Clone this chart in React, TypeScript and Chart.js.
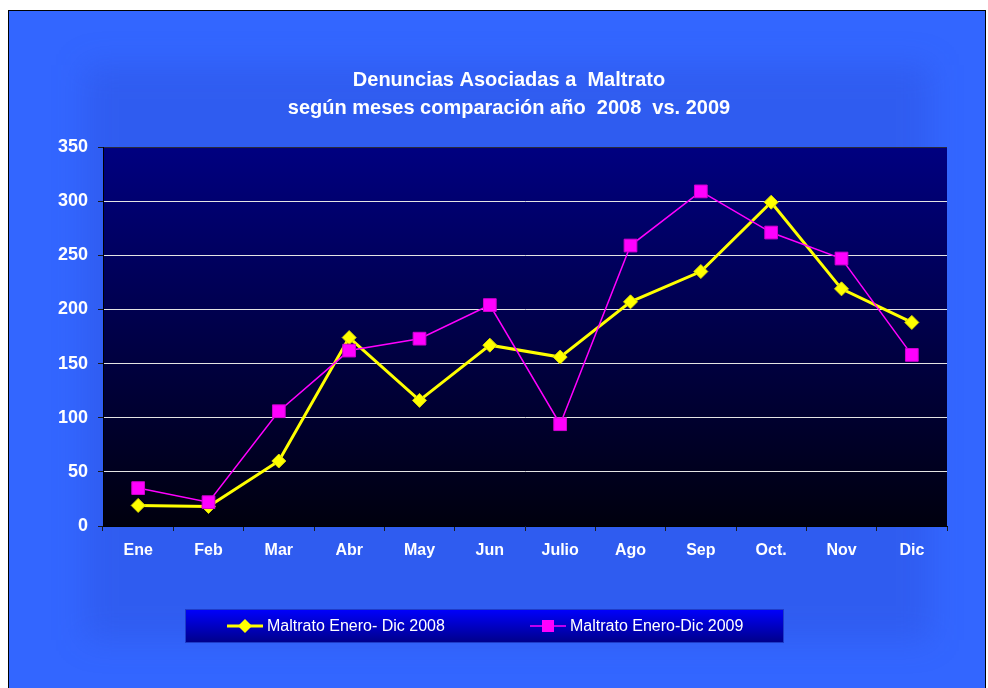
import React, { useEffect, useRef } from 'react';
import { Chart, registerables } from 'chart.js';

Chart.register(...registerables);

const TITLE_LINES = ['Denuncias Asociadas a  Maltrato', 'según meses comparación año  2008  vs. 2009'];
const MONTHS = ['Ene', 'Feb', 'Mar', 'Abr', 'May', 'Jun', 'Julio', 'Ago', 'Sep', 'Oct.', 'Nov', 'Dic'];
const LABEL_2008 = 'Maltrato Enero- Dic 2008';
const VALUES_2008 = [19, 18, 60, 174, 116, 167, 156, 207, 235, 299, 219, 188];
const LABEL_2009 = 'Maltrato Enero-Dic 2009';
const VALUES_2009 = [35, 22, 106, 162, 173, 204, 94, 259, 309, 271, 247, 158];
const Y_MIN = 0;
const Y_MAX = 350;
const Y_STEP = 50;

const FONT = '"Liberation Sans", Arial, sans-serif';

const decorPlugin = {
  id: 'decor',
  beforeDraw(chart: any) {
    const { ctx, chartArea: a, height } = chart;
    ctx.save();
    // outer panel
    ctx.fillStyle = '#3366FF';
    ctx.fillRect(8, 10, 978, height - 10);
    // soft darker glow behind chart
    ctx.save();
    ctx.beginPath();
    ctx.rect(9, 11, 976, height - 11);
    ctx.clip();
    ctx.filter = 'blur(16px)';
    ctx.fillStyle = 'rgba(35,60,185,0.22)';
    ctx.fillRect(85, 65, 845, 575);
    ctx.restore();
    // border
    ctx.strokeStyle = '#000';
    ctx.lineWidth = 1;
    ctx.strokeRect(8.5, 10.5, 977, height + 5);
    // plot background
    const g = ctx.createLinearGradient(0, a.top, 0, a.bottom);
    g.addColorStop(0, '#000080');
    g.addColorStop(1, '#00000E');
    ctx.fillStyle = g;
    ctx.fillRect(a.left, a.top, a.right - a.left, a.bottom - a.top);
    ctx.strokeStyle = '#2a2a3a';
    ctx.beginPath();
    ctx.moveTo(a.left, a.top + 0.5);
    ctx.lineTo(a.right, a.top + 0.5);
    ctx.stroke();
    // title
    ctx.fillStyle = '#FFFFFF';
    ctx.font = `bold 20px ${FONT}`;
    ctx.textAlign = 'center';
    ctx.textBaseline = 'middle';
    TITLE_LINES.forEach((t, i) => ctx.fillText(t, 509, 80 + i * 28));
    // legend box
    const lx = 185, ly = 609, lw = 599, lh = 34;
    const lg = ctx.createLinearGradient(0, ly, 0, ly + lh);
    lg.addColorStop(0, '#0000FF');
    lg.addColorStop(1, '#000088');
    ctx.fillStyle = lg;
    ctx.fillRect(lx, ly, lw, lh);
    ctx.strokeStyle = '#1E3CC8';
    ctx.strokeRect(lx + 0.5, ly + 0.5, lw - 1, lh - 1);
    const cy = ly + lh / 2;
    const ds = chart.data.datasets;
    // item 1 (2008)
    ctx.strokeStyle = ds[0].borderColor;
    ctx.lineWidth = 3;
    ctx.beginPath();
    ctx.moveTo(227, cy);
    ctx.lineTo(263, cy);
    ctx.stroke();
    ctx.fillStyle = ds[0].pointBackgroundColor;
    ctx.beginPath();
    ctx.moveTo(245, cy - 7);
    ctx.lineTo(252, cy);
    ctx.lineTo(245, cy + 7);
    ctx.lineTo(238, cy);
    ctx.closePath();
    ctx.fill();
    // item 2 (2009)
    ctx.strokeStyle = ds[1].borderColor;
    ctx.lineWidth = 1.5;
    ctx.beginPath();
    ctx.moveTo(530, cy);
    ctx.lineTo(566, cy);
    ctx.stroke();
    ctx.fillStyle = ds[1].pointBackgroundColor;
    ctx.fillRect(542, cy - 6, 12, 12);
    ctx.fillStyle = '#FFFFFF';
    ctx.font = `16px ${FONT}`;
    ctx.textAlign = 'left';
    ctx.fillText(ds[0].label, 267, cy + 1);
    ctx.fillText(ds[1].label, 570, cy + 1);
    ctx.restore();
  },
};

export default function App() {
  const ref = useRef<HTMLCanvasElement | null>(null);
  useEffect(() => {
    if (!ref.current) return;
    const chart = new Chart(ref.current, {
      type: 'line',
      data: {
        labels: MONTHS,
        datasets: [
          {
            label: LABEL_2008,
            data: VALUES_2008,
            borderColor: '#FFFF00',
            borderWidth: 3,
            pointStyle: 'rectRot',
            pointRadius: 7,
            pointHoverRadius: 7,
            pointBackgroundColor: '#FFFF00',
            pointBorderColor: '#D8D800',
            pointBorderWidth: 1,
            tension: 0,
            order: 1,
          },
          {
            label: LABEL_2009,
            data: VALUES_2009,
            borderColor: '#FF00FF',
            borderWidth: 1.5,
            pointStyle: 'rect',
            pointRadius: 9,
            pointHoverRadius: 9,
            pointBackgroundColor: '#FF00FF',
            pointBorderColor: '#D000D0',
            pointBorderWidth: 1,
            tension: 0,
            order: 0,
          },
        ],
      },
      options: {
        responsive: false,
        animation: false,
        layout: { padding: { left: 0, top: 147, right: 41, bottom: 122 } },
        plugins: {
          legend: { display: false },
          title: { display: false },
          tooltip: { enabled: false },
        },
        scales: {
          x: {
            type: 'category',
            offset: true,
            afterFit: (s: any) => { s.height = 40; },
            grid: {
              offset: true,
              drawOnChartArea: false,
              drawTicks: true,
              tickLength: 5,
              tickColor: '#1a1a1a',
            },
            border: { color: '#000000', width: 1 },
            ticks: {
              color: '#FFFFFF',
              font: { family: FONT, size: 16, weight: 'bold' },
              padding: 10,
              maxRotation: 0,
              autoSkip: false,
            },
          },
          y: {
            min: Y_MIN,
            max: Y_MAX,
            afterFit: (s: any) => { s.width = 103; },
            grid: {
              color: (c: any) =>
                c.tick && (c.tick.value === Y_MIN || c.tick.value === Y_MAX) ? 'rgba(0,0,0,0)' : '#E4E4E4',
              tickColor: '#1a1a1a',
              tickLength: 5,
              lineWidth: 1,
            },
            border: { color: '#000000', width: 1 },
            ticks: {
              stepSize: Y_STEP,
              color: '#FFFFFF',
              font: { family: FONT, size: 18, weight: 'bold' },
              padding: 10,
            },
          },
        },
      },
      plugins: [decorPlugin],
    });
    return () => chart.destroy();
  }, []);
  return (
    <div style={{ position: 'fixed', left: 0, top: 0, width: 988, height: 688 }}>
      <canvas ref={ref} width={988} height={688} style={{ display: 'block', width: 988, height: 688 }} />
    </div>
  );
}
